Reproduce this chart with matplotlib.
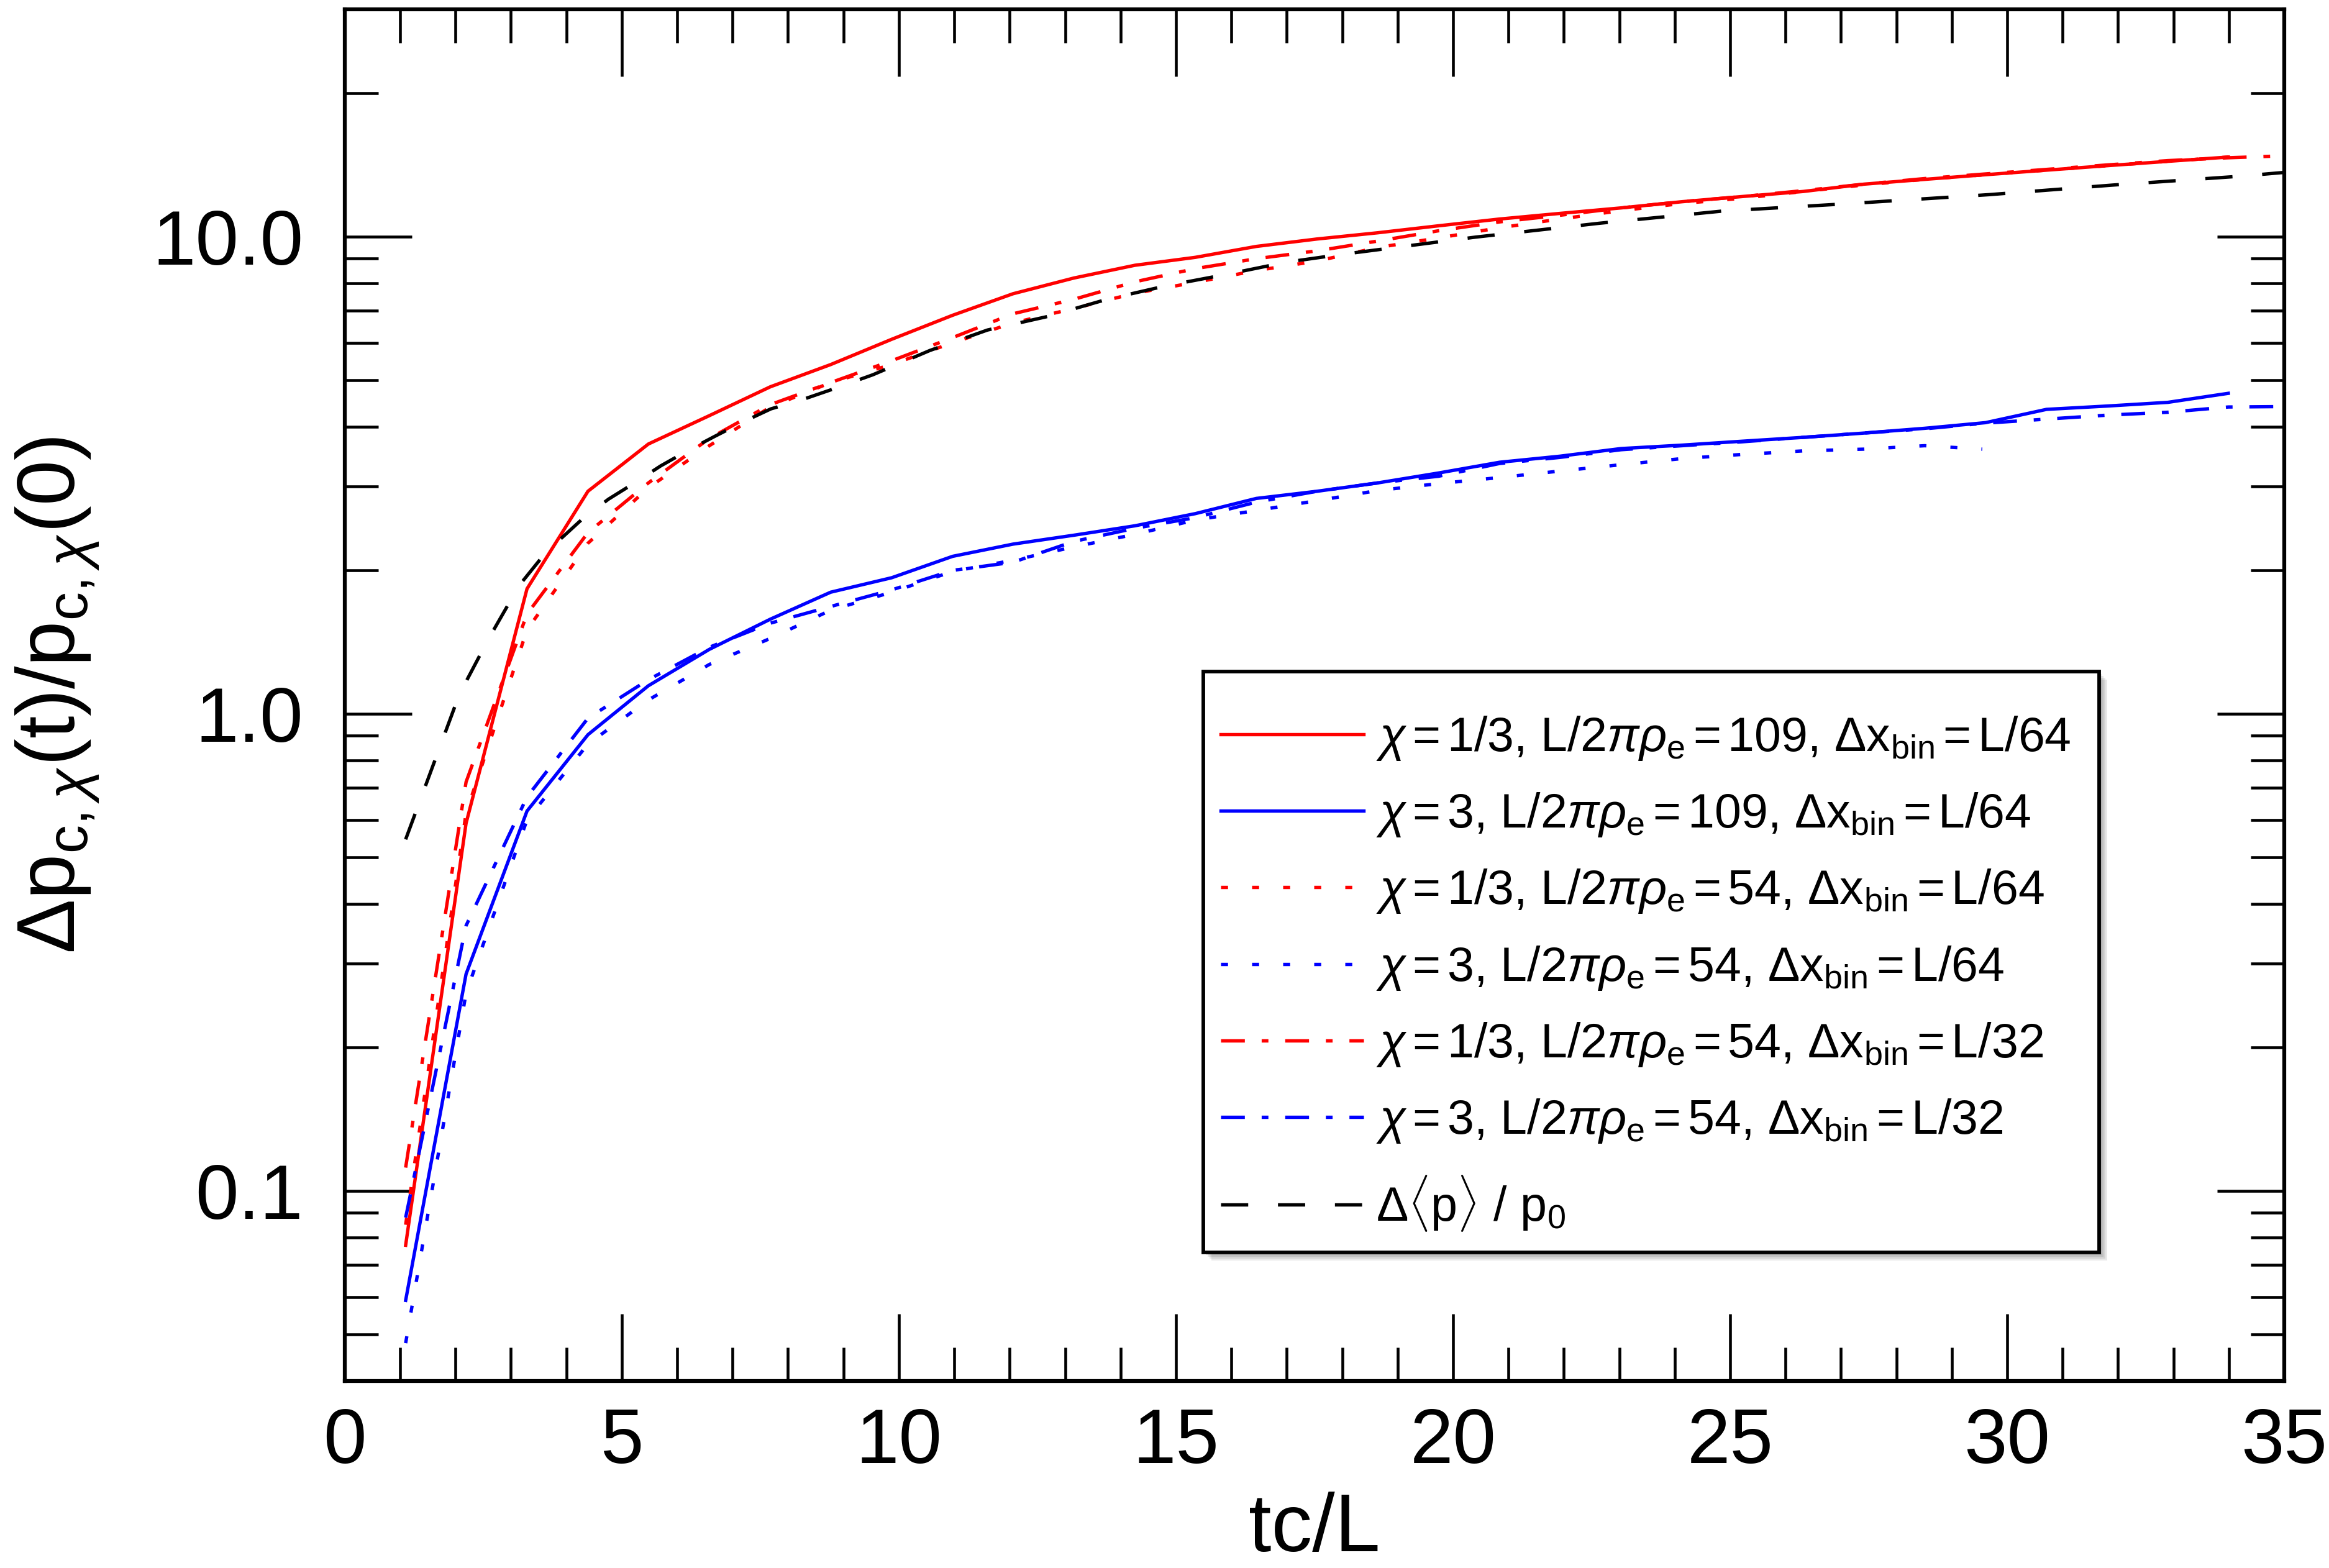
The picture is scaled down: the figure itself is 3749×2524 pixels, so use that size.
import matplotlib
matplotlib.use('Agg')
import matplotlib.pyplot as plt
from matplotlib.patches import Rectangle
from matplotlib.ticker import MultipleLocator, FixedLocator, FixedFormatter, NullFormatter, LogLocator

# sample times of the runs (tc/L)
t_run = [1.10, 2.19, 3.29, 4.39, 5.48, 6.58, 7.68, 8.77, 9.87, 10.97, 12.06,
         13.16, 14.26, 15.35, 16.45, 17.55, 18.64, 19.74, 20.84, 21.93, 23.03,
         24.13, 25.22, 26.32, 27.42, 28.51, 29.61, 30.71, 31.80, 32.90, 33.99]
t_run_long = [1.10, 2.19, 3.29, 4.39, 5.48, 6.58, 7.68, 8.77, 9.87, 10.97, 12.06,
              13.16, 14.26, 15.35, 16.45, 17.55, 18.64, 19.74, 20.84, 21.93, 23.03,
              24.13, 25.22, 26.32, 27.42, 28.51, 29.61, 30.71, 31.80, 32.90, 33.99, 35.08]
t_run_short = [1.10, 2.19, 3.29, 4.39, 5.48, 6.58, 7.68, 8.77, 9.87, 10.97, 12.06,
               13.16, 14.26, 15.35, 16.45, 17.55, 18.64, 19.74, 20.84, 21.93, 23.03,
               24.13, 25.22, 26.32, 27.42, 28.51, 29.55]

# chi=1/3, L/2 pi rho_e=109, dx=L/64
red_109_64 = [0.077, 0.59, 1.83, 2.93, 3.68, 4.22, 4.85, 5.4, 6.1, 6.85, 7.6,
              8.2, 8.72, 9.06, 9.55, 9.9, 10.2, 10.55, 10.9, 11.2, 11.5,
              11.85, 12.15, 12.45, 12.9, 13.2, 13.5, 13.8, 14.1, 14.4, 14.7]
# chi=3, L/2 pi rho_e=109, dx=L/64
blue_109_64 = [0.059, 0.285, 0.626, 0.905, 1.146, 1.366, 1.58, 1.80, 1.93, 2.14, 2.27,
               2.37, 2.48, 2.63, 2.83, 2.93, 3.05, 3.2, 3.37, 3.47, 3.60,
               3.66, 3.73, 3.80, 3.88, 3.97, 4.08, 4.35, 4.42, 4.50, 4.70]
# chi=1/3, L/2 pi rho_e=54, dx=L/64
red_54_64 = [0.085, 0.62, 1.5, 2.28, 2.98, 3.65, 4.4, 4.95, 5.4, 6.0, 6.6,
             7.08, 7.62, 8.03, 8.5, 8.9, 9.5, 9.95, 10.45, 10.9, 11.35,
             11.75, 12.05, 12.45, 12.85, 13.2, 13.5, 13.8, 14.1, 14.4, 14.7]
# chi=3, L/2 pi rho_e=54, dx=L/64
blue_54_64 = [0.048, 0.26, 0.60, 0.865, 1.07, 1.27, 1.44, 1.65, 1.80, 1.99, 2.1,
              2.24, 2.38, 2.55, 2.67, 2.80, 2.94, 3.04, 3.13, 3.23, 3.33,
              3.43, 3.50, 3.56, 3.59, 3.65, 3.59]
# chi=1/3, L/2 pi rho_e=54, dx=L/32
red_54_32 = [0.112, 0.72, 1.62, 2.4, 3.05, 3.78, 4.45, 4.95, 5.5, 6.15, 6.9,
             7.4, 8.05, 8.58, 9.0, 9.35, 9.8, 10.3, 10.75, 11.1, 11.5,
             11.85, 12.15, 12.5, 12.9, 13.25, 13.55, 13.85, 14.15, 14.45, 14.65, 14.8]
# chi=3, L/2 pi rho_e=54, dx=L/32
blue_54_32 = [0.088, 0.36, 0.67, 0.98, 1.18, 1.38, 1.55, 1.68, 1.82, 2.0, 2.08,
              2.3, 2.45, 2.58, 2.78, 2.93, 3.05, 3.15, 3.35, 3.45, 3.58,
              3.65, 3.72, 3.80, 3.88, 3.96, 4.07, 4.15, 4.23, 4.29, 4.40, 4.41]
# mean pressure change
t_mean = [1.10, 1.68, 2.07, 2.60, 3.15, 3.53, 3.90, 4.30, 4.76, 5.25, 5.70,
          6.20, 6.68, 7.20, 7.69, 8.26, 8.75, 9.53, 10.56, 11.60, 12.66, 13.74,
          14.83, 15.90, 16.99, 17.93, 20.41, 22.64, 24.87, 26.98, 29.67, 31.90,
          34.20, 35.00]
mean_p = [0.546, 0.83, 1.10, 1.44, 1.86, 2.11, 2.33, 2.57, 2.82, 3.06, 3.31,
          3.57, 3.82, 4.10, 4.36, 4.56, 4.77, 5.14, 5.78, 6.38, 6.80, 7.39,
          7.90, 8.34, 8.85, 9.17, 9.99, 10.68, 11.33, 11.71, 12.26, 12.84,
          13.40, 13.65]

EQ = r'$\,$=$\,$'
labels = [r'$\chi$' + EQ + r'1/3, L/2$\pi\rho_{\mathrm{e}}$' + EQ + r'109, $\Delta$x$_{\mathrm{bin}}$' + EQ + 'L/64',
          r'$\chi$' + EQ + r'3, L/2$\pi\rho_{\mathrm{e}}$' + EQ + r'109, $\Delta$x$_{\mathrm{bin}}$' + EQ + 'L/64',
          r'$\chi$' + EQ + r'1/3, L/2$\pi\rho_{\mathrm{e}}$' + EQ + r'54, $\Delta$x$_{\mathrm{bin}}$' + EQ + 'L/64',
          r'$\chi$' + EQ + r'3, L/2$\pi\rho_{\mathrm{e}}$' + EQ + r'54, $\Delta$x$_{\mathrm{bin}}$' + EQ + 'L/64',
          r'$\chi$' + EQ + r'1/3, L/2$\pi\rho_{\mathrm{e}}$' + EQ + r'54, $\Delta$x$_{\mathrm{bin}}$' + EQ + 'L/32',
          r'$\chi$' + EQ + r'3, L/2$\pi\rho_{\mathrm{e}}$' + EQ + r'54, $\Delta$x$_{\mathrm{bin}}$' + EQ + 'L/32',
          r'$\Delta\langle$p$\rangle$ / p$_0$']

ytick_vals = [0.1, 1.0, 10.0]
ytick_labels = ['0.1', '1.0', '10.0']

plt.rcParams['font.family'] = ['Liberation Sans', 'DejaVu Sans']
plt.rcParams['mathtext.fontset'] = 'custom'
plt.rcParams['mathtext.rm'] = 'Liberation Sans'
plt.rcParams['mathtext.it'] = 'Liberation Sans:italic'
plt.rcParams['mathtext.bf'] = 'Liberation Sans:bold'
plt.rcParams['lines.scale_dashes'] = False

DOT = (0, (2.7, 9.3))
DASHDOT = (0, (9.2, 6.5, 2.6, 6.5))
DASH = (0, (10.5, 11.5))

fig = plt.figure(figsize=(3749 / 300, 2524 / 300), dpi=300)
ax = fig.add_axes([0.1480, 0.1193, 0.8328, 0.8748])

lw = 1.3
ax.plot(t_run, red_109_64, color='red', lw=lw, ls='-', label=labels[0])
ax.plot(t_run, blue_109_64, color='blue', lw=lw, ls='-', label=labels[1])
ax.plot(t_run, red_54_64, color='red', lw=lw, ls=DOT, label=labels[2])
ax.plot(t_run_short, blue_54_64, color='blue', lw=lw, ls=DOT, label=labels[3])
ax.plot(t_run_long, red_54_32, color='red', lw=lw, ls=DASHDOT, label=labels[4])
ax.plot(t_run_long, blue_54_32, color='blue', lw=lw, ls=DASHDOT, label=labels[5])
ax.plot(t_mean, mean_p, color='black', lw=lw, ls=DASH, label=labels[6])

ax.set_yscale('log')
ax.set_xlim(0, 35)
ax.set_ylim(0.04, 30)

ax.xaxis.set_major_locator(MultipleLocator(5))
ax.xaxis.set_minor_locator(MultipleLocator(1))
ax.yaxis.set_major_locator(FixedLocator(ytick_vals))
ax.yaxis.set_major_formatter(FixedFormatter(ytick_labels))
ax.yaxis.set_minor_locator(LogLocator(base=10, subs=range(2, 10), numticks=20))
ax.yaxis.set_minor_formatter(NullFormatter())

ax.tick_params(which='both', direction='in', top=True, right=True, width=1.1,
               labelsize=30)
ax.tick_params(which='major', length=26)
ax.tick_params(which='minor', length=13)
ax.tick_params(axis='x', which='major', pad=10)
ax.tick_params(axis='y', which='major', pad=16)
for sp in ax.spines.values():
    sp.set_linewidth(1.5)

ax.set_xlabel('tc/L', fontsize=31.5, labelpad=5)
ax.set_ylabel(r'$\Delta$p$_{\mathrm{c},\chi}$(t)/p$_{\mathrm{c},\chi}$(0)', fontsize=31.5)
ax.yaxis.set_label_coords(-0.1256, 0.5)

# legend box drawn by hand so the padding can match, with a soft shadow
bx, by, bw, bh = 0.4427, 0.0938, 0.4618, 0.4234
ax_w, ax_h = 3122.0, 2208.0
for off in [4, 7, 10, 13]:
    ax.add_patch(Rectangle((bx + off / ax_w, by - off / ax_h), bw, bh,
                           transform=ax.transAxes, facecolor='black',
                           edgecolor='none', alpha=0.09, zorder=3.9))
box = Rectangle((bx, by), bw, bh, transform=ax.transAxes,
                facecolor='white', edgecolor='black', lw=1.4, zorder=4)
ax.add_patch(box)

leg = ax.legend(loc='upper left', bbox_to_anchor=(0.4516, 0.486), borderaxespad=0,
                borderpad=0, fontsize=18.5, handlelength=2.98, handletextpad=0.27,
                labelspacing=0.6, frameon=False)
leg.set_zorder(5)

fig.savefig('out.png', dpi=300)
